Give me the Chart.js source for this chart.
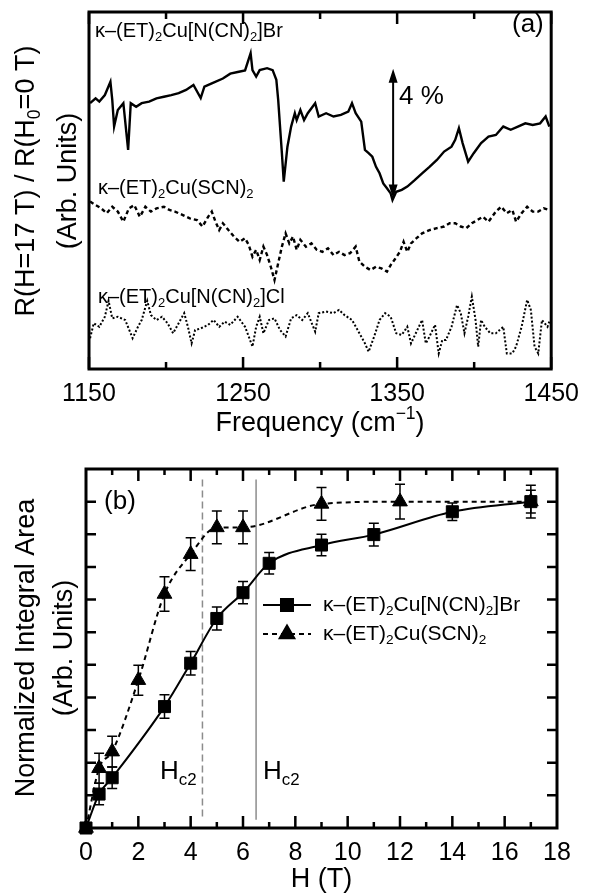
<!DOCTYPE html>
<html>
<head>
<meta charset="utf-8">
<script src="https://cdn.jsdelivr.net/npm/chart.js@4.4.1/dist/chart.umd.min.js"></script>
<style>
  body { margin: 0; background: #fff; }
  .panel { position: absolute; left: 0; }
</style>
</head>
<body>
<div class="panel" style="top:0"><canvas id="chartA" width="589" height="440"></canvas></div>
<div class="panel" style="top:440px"><canvas id="chartB" width="589" height="455"></canvas></div>
<script>
// ---- panel (a): R(17 T)/R(0 T) spectra, arbitrary units (1 unit = 1 %) ----
const brFreq = [1150.7,1154.3,1156.7,1160.3,1163.9,1165.1,1166.3,1168.7,1172.3,1175.4,1177.1,1180.6,1184.2,1189,1193.8,1198.6,1203.4,1208.2,1213,1217.8,1222.5,1224.9,1229.7,1236.9,1241.7,1246.5,1251.3,1254.9,1256.1,1258.5,1260.8,1265.6,1269.2,1271.6,1272.8,1274,1275.2,1276.4,1278.8,1281.2,1283.6,1284.8,1287.2,1289.6,1292,1296.8,1299.1,1303.9,1308.7,1313.5,1318.3,1320.7,1323.1,1326.7,1329.1,1331.5,1333.9,1336.3,1338.6,1341,1343.4,1345.8,1347,1349.4,1353,1356.6,1361.4,1366.2,1371,1375.8,1380.5,1385.3,1387.7,1390.1,1392.5,1396.1,1399.7,1404.5,1406.9,1409.3,1414.1,1418.9,1423.7,1428.4,1433.2,1438,1442.8,1446.4,1448.8];
const brSignal = [8.19,8.34,8.24,8.44,8.85,8.29,7.47,7.98,8.19,6.75,8.19,8.08,8.19,8.24,8.34,8.39,8.44,8.5,8.6,8.75,8.35,8.7,8.8,8.95,9.1,9.15,9.2,9.73,9.21,9.01,9.21,9.27,9.21,8.91,8.29,7.47,6.65,5.77,6.85,7.47,7.88,7.67,7.98,7.67,7.88,8.19,7.78,7.88,7.78,7.83,7.93,8.19,7.88,7.62,6.75,6.65,6.54,6.23,6.03,5.72,5.57,5.41,5.21,5.46,5.52,5.62,5.82,6.03,6.23,6.44,6.7,6.85,7.06,7.42,6.96,6.39,6.65,6.96,7.06,7.16,7.21,7.47,7.37,7.47,7.57,7.52,7.57,7.78,7.47];

const scnFreq = [1150.7,1154.3,1157.9,1161.5,1165.1,1168.7,1172.3,1175.9,1179.4,1183,1186.6,1190.2,1193.8,1198.6,1202.2,1205.8,1210.6,1215.4,1220.1,1223.7,1227.3,1229.7,1232.1,1234.5,1236.9,1240.5,1244.1,1247.7,1251.3,1253.7,1256.1,1258.5,1260.8,1263.2,1265.6,1268,1270.4,1272.8,1275.2,1277.6,1280,1282.4,1284.8,1287.2,1290.8,1294.4,1297.9,1301.5,1305.1,1308.7,1312.3,1315.9,1319.5,1323.1,1325.5,1329.1,1332.7,1336.3,1339.8,1343.4,1345.8,1348.2,1351.8,1354.2,1356.6,1359,1362.6,1366.2,1371,1375.8,1380.5,1384.1,1387.7,1391.3,1394.9,1398.5,1402.1,1405.7,1409.3,1414.1,1417.6,1421.2,1424.8,1427.2,1430.8,1434.4,1438,1441.6,1445.2,1448.8];
const scnSignal = [5.16,5.05,4.95,4.80,5.00,4.85,4.54,4.95,5.05,4.69,5.00,4.85,4.95,5.00,4.90,4.85,4.75,4.64,4.59,4.39,4.69,4.85,4.54,4.28,4.49,4.28,4.08,3.92,4.03,3.82,3.46,3.67,3.36,3.77,3.51,3.15,2.74,3.26,3.77,4.18,3.87,4.08,3.67,3.98,3.77,3.87,3.67,3.61,3.72,3.51,3.61,3.51,3.57,3.77,3.31,3.15,3.05,3.15,3.10,3.00,3.20,3.36,3.61,3.92,3.61,3.87,4.03,4.18,4.28,4.34,4.39,4.49,4.49,4.39,4.34,4.49,4.59,4.69,4.54,4.85,5.00,4.80,4.90,4.54,4.80,5.00,4.85,4.85,4.95,4.90];

const clFreq = [1150.7,1153.1,1156.7,1160.3,1162.7,1165.1,1168.7,1173.5,1178.3,1181.8,1184.2,1187.8,1190.2,1193.8,1197.4,1201,1204.6,1208.2,1211.8,1214.2,1216.6,1218.9,1222.5,1227.3,1230.9,1234.5,1238.1,1241.7,1246.5,1251.3,1256.1,1258.5,1260.8,1263.2,1266.8,1270.4,1274,1277.6,1281.2,1284.8,1288.4,1292,1296.8,1299.1,1303.9,1308.7,1312.3,1315.9,1320.7,1325.5,1329.1,1331.5,1335.1,1338.6,1342.2,1345.8,1349.4,1353,1356.6,1359,1362.6,1366.2,1368.6,1371,1374.6,1377,1379.3,1381.7,1385.3,1388.9,1391.3,1393.7,1396.1,1398.5,1400.9,1402.6,1404.5,1406.9,1410.5,1414.1,1418.9,1421.2,1424.8,1427.2,1430.8,1434.4,1436.8,1439.2,1441.6,1444,1447.6,1448.8];
const clSignal = [0.95,1.41,1.30,1.61,2.10,1.56,1.61,1.51,0.95,1.30,1.51,2.10,1.66,1.51,1.61,1.41,1.10,1.41,1.72,1.30,0.79,1.20,1.25,1.36,1.51,1.30,1.46,1.36,1.61,1.30,0.69,1.30,1.61,1.10,1.51,1.56,1.20,1.00,1.56,1.66,1.51,1.72,1.15,1.72,1.77,1.72,1.82,1.66,1.51,1.10,0.79,0.53,1.00,1.51,1.72,1.61,1.10,1.05,1.30,0.79,1.15,1.51,0.79,1.00,1.36,0.48,0.89,0.89,1.30,1.97,1.72,1.10,1.61,2.23,1.51,0.69,1.51,1.30,1.10,1.10,1.30,0.48,0.48,0.69,1.30,2.13,1.82,0.69,0.48,1.51,1.30,1.46];

const freqTicks = [1150, 1250, 1350, 1450];

// ---- panel (b): normalized integral area vs field ----
const brField = [0, 0.5, 1, 3, 4, 5, 6, 7, 9, 11, 14, 17];
const brArea  = [0, 0.104, 0.154, 0.372, 0.505, 0.642, 0.721, 0.811, 0.867, 0.899, 0.969, 1.0];
const brErr   = [0, 0.033, 0.033, 0.036, 0.036, 0.035, 0.034, 0.033, 0.033, 0.035, 0.027, 0.035];

const scnField = [0, 0.5, 1, 2, 3, 4, 5, 6, 9, 12, 17];
const scnArea  = [0, 0.183, 0.234, 0.453, 0.717, 0.839, 0.921, 0.921, 0.993, 1.0, 1.0];
const scnErr   = [0, 0.046, 0.047, 0.046, 0.053, 0.05, 0.05, 0.05, 0.05, 0.053, 0.05];

const hc2Scn = 4.45;
const hc2Br = 6.5;

const FONT = '"Liberation Sans", Arial, Helvetica, sans-serif';
const pts = (xs, ys) => xs.map((x, i) => ({ x: x, y: ys[i] }));

// text with sub/superscripts: parts = [[text, 0|1|2]], 1 = sub, 2 = sup
function drawRich(ctx, parts, x, y, size, align) {
  const small = size * 0.65;
  let w = 0;
  parts.forEach(p => {
    ctx.font = (p[1] ? small : size) + 'px ' + FONT;
    w += ctx.measureText(p[0]).width;
  });
  let cx = align === 'center' ? x - w / 2 : x;
  ctx.textAlign = 'left';
  ctx.textBaseline = 'middle';
  parts.forEach(p => {
    ctx.font = (p[1] ? small : size) + 'px ' + FONT;
    const dy = p[1] === 1 ? size * 0.32 : p[1] === 2 ? -size * 0.36 : 0;
    ctx.fillText(p[0], cx, y + dy);
    cx += ctx.measureText(p[0]).width;
  });
}

function drawRotated(ctx, parts, x, y, size) {
  ctx.save();
  ctx.translate(x, y);
  ctx.rotate(-Math.PI / 2);
  drawRich(ctx, parts, 0, 0, size, 'center');
  ctx.restore();
}

const nameBr = [['κ–(ET)', 0], ['2', 1], ['Cu[N(CN)', 0], ['2', 1], [']Br', 0]];
const nameScn = [['κ–(ET)', 0], ['2', 1], ['Cu(SCN)', 0], ['2', 1]];
const nameCl = [['κ–(ET)', 0], ['2', 1], ['Cu[N(CN)', 0], ['2', 1], [']Cl', 0]];

const panelA = {
  id: 'panelA',
  afterDraw(chart) {
    const ctx = chart.ctx;
    const a = chart.chartArea;
    const xs = chart.scales.x, ys = chart.scales.y;
    ctx.save();
    ctx.strokeStyle = '#000';
    ctx.fillStyle = '#000';
    ctx.lineWidth = 3;
    ctx.strokeRect(a.left, a.top, a.right - a.left, a.bottom - a.top);
    // inward ticks top and bottom
    ctx.lineWidth = 2.5;
    for (let f = 1150; f <= 1450; f += 50) {
      const px = xs.getPixelForValue(f);
      const len = (f - 1150) % 100 === 0 ? 12 : 7;
      ctx.beginPath();
      ctx.moveTo(px, a.bottom); ctx.lineTo(px, a.bottom - len);
      ctx.moveTo(px, a.top); ctx.lineTo(px, a.top + len);
      ctx.stroke();
    }
    // 4 % arrow
    const ax = xs.getPixelForValue(1347.4);
    const y1 = ys.getPixelForValue(9.25), y2 = ys.getPixelForValue(5.25);
    ctx.lineWidth = 2;
    ctx.beginPath(); ctx.moveTo(ax, y1 + 8); ctx.lineTo(ax, y2 - 8); ctx.stroke();
    ctx.beginPath();
    ctx.moveTo(ax, y1); ctx.lineTo(ax - 4.5, y1 + 14); ctx.lineTo(ax + 4.5, y1 + 14); ctx.closePath();
    ctx.moveTo(ax, y2); ctx.lineTo(ax - 4.5, y2 - 14); ctx.lineTo(ax + 4.5, y2 - 14); ctx.closePath();
    ctx.fill();
    ctx.font = '26px ' + FONT;
    ctx.textAlign = 'left'; ctx.textBaseline = 'middle';
    ctx.fillText('4 %', ax + 6, 97);
    ctx.fillText('(a)', 512, 25);
    // curve labels
    drawRich(ctx, nameBr, 95, 31, 20, 'left');
    drawRich(ctx, nameScn, 98, 188, 20, 'left');
    drawRich(ctx, nameCl, 98, 297, 20, 'left');
    // axis titles
    drawRich(ctx, [['Frequency (cm', 0], ['−1', 2], [')', 0]], (a.left + a.right) / 2, 424, 27, 'center');
    drawRotated(ctx, [['R(H=17 T) / R(H', 0], ['0', 1], ['=0 T)', 0]], 27, 181, 27);
    drawRotated(ctx, [['(Arb. Units)', 0]], 69, 181, 27);
    ctx.restore();
  }
};

new Chart(document.getElementById('chartA'), {
  type: 'line',
  data: {
    datasets: [
      { label: 'Br', data: pts(brFreq, brSignal), borderColor: '#000', borderWidth: 2.4, pointRadius: 0, tension: 0 },
      { label: 'SCN', data: pts(scnFreq, scnSignal), borderColor: '#000', borderWidth: 2.4, borderDash: [4, 3], pointRadius: 0, tension: 0 },
      { label: 'Cl', data: pts(clFreq, clSignal), borderColor: '#000', borderWidth: 2, borderDash: [2, 2], pointRadius: 0, tension: 0 }
    ]
  },
  options: {
    responsive: false,
    animation: false,
    layout: { padding: { left: 89, right: 32, top: 12, bottom: 0 } },
    scales: {
      x: {
        type: 'linear', min: 1150, max: 1450,
        grid: { display: false, drawTicks: false },
        border: { display: false },
        afterBuildTicks: (s) => { s.ticks = freqTicks.map(v => ({ value: v })); },
        ticks: { autoSkip: false, maxRotation: 0, padding: 10, color: '#000', font: { family: FONT, size: 25 },
          callback: (v) => String(v) },
        afterFit: (s) => { s.height = 71; }
      },
      y: { display: false, min: 0, max: 11 }
    },
    plugins: { legend: { display: false }, tooltip: { enabled: false } }
  },
  plugins: [panelA]
});

// ---- panel (b) ----
const panelB = {
  id: 'panelB',
  beforeDatasetsDraw(chart) {
    const ctx = chart.ctx;
    const xs = chart.scales.x, ys = chart.scales.y;
    ctx.save();
    ctx.strokeStyle = '#8c8c8c';
    ctx.lineWidth = 1.5;
    ctx.setLineDash([7, 4]);
    let px = xs.getPixelForValue(hc2Scn);
    ctx.beginPath(); ctx.moveTo(px, ys.getPixelForValue(1.068)); ctx.lineTo(px, ys.getPixelForValue(0.034)); ctx.stroke();
    ctx.setLineDash([]);
    px = xs.getPixelForValue(hc2Br);
    ctx.beginPath(); ctx.moveTo(px, ys.getPixelForValue(1.068)); ctx.lineTo(px, ys.getPixelForValue(0.025)); ctx.stroke();
    // error bars
    ctx.strokeStyle = '#000';
    ctx.lineWidth = 1.5;
    [[0, brArea, brErr], [1, scnArea, scnErr]].forEach(([di, vals, errs]) => {
      chart.getDatasetMeta(di).data.forEach((el, i) => {
        if (!errs[i]) return;
        const t = ys.getPixelForValue(vals[i] + errs[i]);
        const b = ys.getPixelForValue(vals[i] - errs[i]);
        ctx.beginPath();
        ctx.moveTo(el.x, t); ctx.lineTo(el.x, b);
        ctx.moveTo(el.x - 5, t); ctx.lineTo(el.x + 5, t);
        ctx.moveTo(el.x - 5, b); ctx.lineTo(el.x + 5, b);
        ctx.stroke();
      });
    });
    ctx.restore();
  },
  afterDraw(chart) {
    const ctx = chart.ctx;
    const a = chart.chartArea;
    const xs = chart.scales.x, ys = chart.scales.y;
    ctx.save();
    ctx.strokeStyle = '#000';
    ctx.fillStyle = '#000';
    ctx.lineWidth = 3;
    ctx.strokeRect(a.left, a.top, a.right - a.left, a.bottom - a.top);
    ctx.lineWidth = 2.5;
    for (let h = 1; h < 18; h++) {
      const px = xs.getPixelForValue(h);
      const len = h % 2 === 0 ? 12 : 6;
      ctx.beginPath();
      ctx.moveTo(px, a.bottom); ctx.lineTo(px, a.bottom - len);
      ctx.moveTo(px, a.top); ctx.lineTo(px, a.top + len);
      ctx.stroke();
    }
    for (let k = 1; k <= 10; k++) {
      const py = ys.getPixelForValue(k / 10);
      ctx.beginPath();
      ctx.moveTo(a.left, py); ctx.lineTo(a.left + 10, py);
      ctx.moveTo(a.right, py); ctx.lineTo(a.right - 10, py);
      ctx.stroke();
    }
    // legend
    const lx1 = 263, lx2 = 311, lxm = 287;
    ctx.lineWidth = 2;
    ctx.beginPath(); ctx.moveTo(lx1, 165); ctx.lineTo(lx2, 165); ctx.stroke();
    Chart.helpers.drawPoint(ctx, { pointStyle: 'rect', radius: 8.5, borderWidth: 1, rotation: 0 }, lxm, 165);
    ctx.setLineDash([5, 4]);
    ctx.beginPath(); ctx.moveTo(lx1, 194); ctx.lineTo(lx2, 194); ctx.stroke();
    ctx.setLineDash([]);
    Chart.helpers.drawPoint(ctx, { pointStyle: 'triangle', radius: 8.5, borderWidth: 1, rotation: 0 }, lxm, 194);
    drawRich(ctx, nameBr, 323, 165, 21, 'left');
    drawRich(ctx, nameScn, 323, 194, 21, 'left');
    // labels
    ctx.font = '26px ' + FONT;
    ctx.textAlign = 'center'; ctx.textBaseline = 'middle';
    ctx.fillText('(b)', 120, 62);
    drawRich(ctx, [['H', 0], ['c2', 1]], 160, 332, 26, 'left');
    drawRich(ctx, [['H', 0], ['c2', 1]], 263, 332, 26, 'left');
    drawRich(ctx, [['H (T)', 0]], (a.left + a.right) / 2, 440, 27, 'center');
    drawRotated(ctx, [['Normalized Integral Area', 0]], 27, 208, 27);
    drawRotated(ctx, [['(Arb. Units)', 0]], 65, 208, 27);
    ctx.restore();
  }
};

new Chart(document.getElementById('chartB'), {
  type: 'line',
  data: {
    datasets: [
      { label: 'Br', data: pts(brField, brArea), borderColor: '#000', backgroundColor: '#000', borderWidth: 2,
        pointStyle: 'rect', pointRadius: 8.5, pointBorderWidth: 1, cubicInterpolationMode: 'monotone', clip: false },
      { label: 'SCN', data: pts(scnField, scnArea), borderColor: '#000', backgroundColor: '#000', borderWidth: 2, borderDash: [5, 4],
        pointStyle: 'triangle', pointRadius: 8.5, pointBorderWidth: 1, cubicInterpolationMode: 'monotone', clip: false }
    ]
  },
  options: {
    responsive: false,
    animation: false,
    layout: { padding: { left: 86, right: 32, top: 29, bottom: 0 } },
    scales: {
      x: {
        type: 'linear', min: 0, max: 18,
        grid: { display: false, drawTicks: false },
        border: { display: false },
        ticks: { stepSize: 2, autoSkip: false, maxRotation: 0, padding: 10, color: '#000', font: { family: FONT, size: 25 } },
        afterFit: (s) => { s.height = 67; }
      },
      y: { display: false, min: 0, max: 1.1 }
    },
    plugins: { legend: { display: false }, tooltip: { enabled: false } }
  },
  plugins: [panelB]
});
</script>
</body>
</html>
